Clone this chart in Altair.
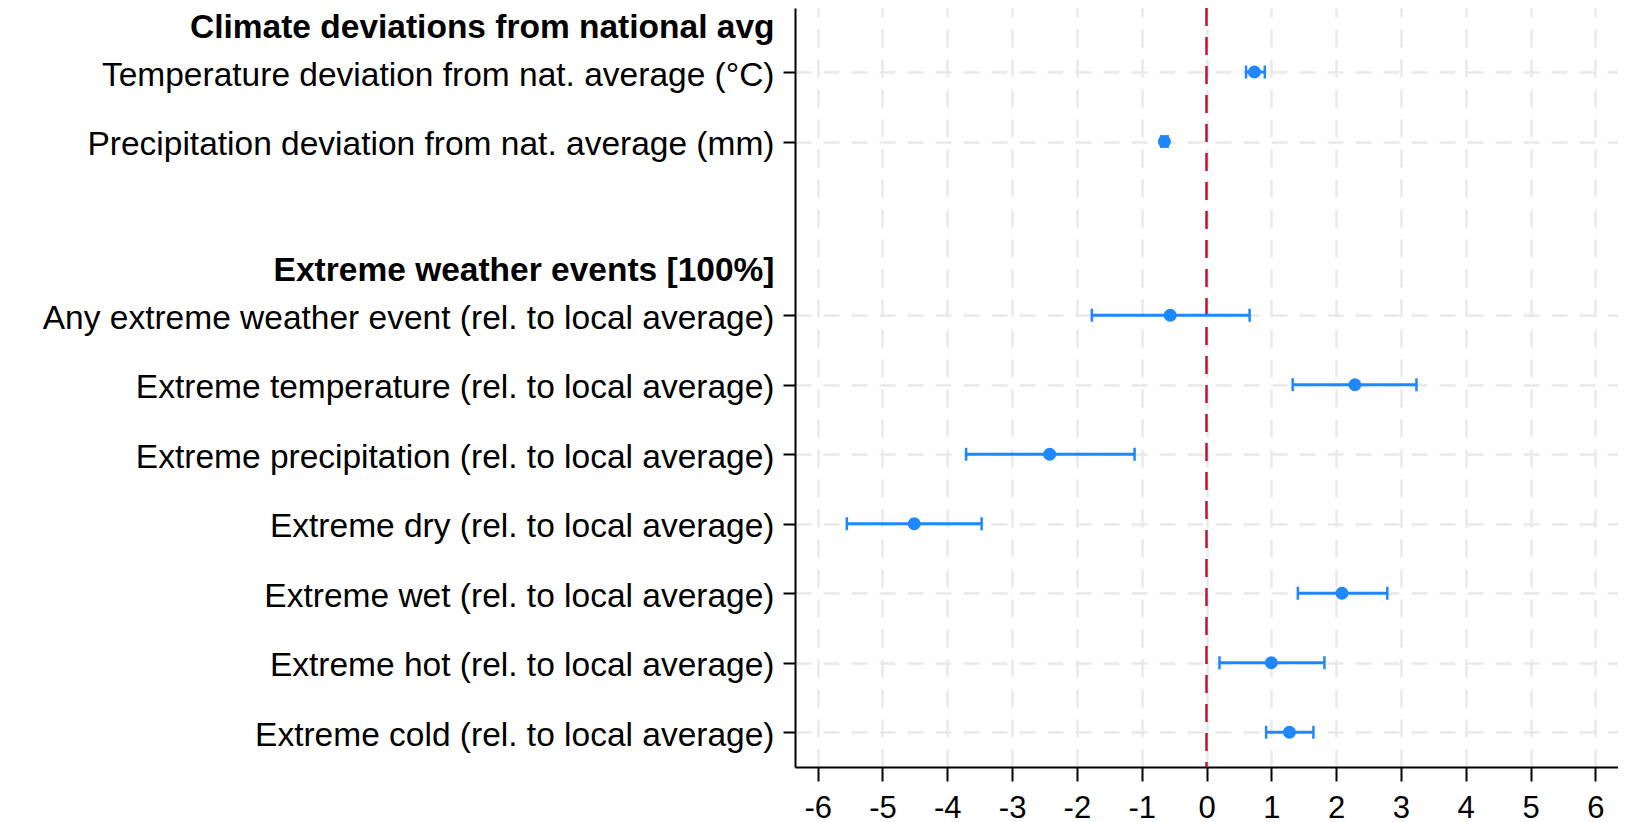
import json
import altair as alt
import pandas as pd

# ---- data ----
headers = ["Climate deviations from national avg", "Extreme weather events [100%]"]

group1_labels = [
    "Temperature deviation from nat. average (°C)",
    "Precipitation deviation from nat. average (mm)",
]
group1_est = [0.74, -0.65]
group1_lo = [0.61, -0.70]
group1_hi = [0.90, -0.60]

group2_labels = [
    "Any extreme weather event (rel. to local average)",
    "Extreme temperature (rel. to local average)",
    "Extreme precipitation (rel. to local average)",
    "Extreme dry (rel. to local average)",
    "Extreme wet (rel. to local average)",
    "Extreme hot (rel. to local average)",
    "Extreme cold (rel. to local average)",
]
group2_est = [-0.56, 2.29, -2.42, -4.51, 2.09, 1.00, 1.28]
group2_lo = [-1.77, 1.33, -3.71, -5.55, 1.41, 0.20, 0.92]
group2_hi = [0.665, 3.24, -1.11, -3.47, 2.79, 1.82, 1.65]

x_ticks = list(range(-6, 7))

# ---- build table (row index layout computed from group structure) ----
groups = [
    (group1_labels, group1_est, group1_lo, group1_hi),
    (group2_labels, group2_est, group2_lo, group2_hi),
]
rows = []
header_pos = []
start = 1.0
for gi, (labs, est, lo, hi) in enumerate(groups):
    header_pos.append(start - 0.69)
    for i, lab in enumerate(labs):
        rows.append({"label": lab, "pos": start + i, "est": est[i], "lo": lo[i], "hi": hi[i]})
    start = start + len(labs) + 1.5
df = pd.DataFrame(rows)

BLUE = "#1f87ff"
RED = "#c8102e"
FONT = "Liberation Sans"

# axis label expression
entries = [(p, h) for p, h in zip(header_pos, headers)] + [(r["pos"], r["label"]) for r in rows]
expr = ""
for p, t in entries:
    expr += f"abs(datum.value - {p}) < 0.01 ? {json.dumps(t, ensure_ascii=False)} : "
expr += "''"
hdr_test = " || ".join(f"abs(datum.value - {p}) < 0.01" for p in header_pos)

yaxis = alt.Axis(
    values=[p for p, _ in entries],
    labelExpr=expr,
    labelFont=FONT,
    labelFontSize=33.5,
    labelColor="black",
    labelPadding=9,
    labelOffset=3,
    labelLimit=1000,
    labelFontWeight={"condition": {"test": hdr_test, "value": "bold"}, "value": "normal"},
    tickOpacity={"condition": {"test": hdr_test, "value": 0}, "value": 1},
    gridOpacity={"condition": {"test": hdr_test, "value": 0}, "value": 1},
    tickSize=12,
    tickWidth=2,
    tickColor="black",
    domainColor="black",
    domainWidth=2,
    grid=True,
    gridDash=[16, 12],
    gridColor="#e9e9e9",
    gridWidth=2.5,
    title=None,
)
xaxis = alt.Axis(
    values=x_ticks,
    labelExpr="toString(datum.value)",
    labelFont=FONT,
    labelFontSize=31,
    labelColor="black",
    labelPadding=12,
    tickSize=14,
    tickWidth=2,
    tickColor="black",
    domainColor="black",
    domainWidth=2,
    grid=True,
    gridDash=[18, 12],
    gridColor="#e9e9e9",
    gridWidth=2.5,
    title=None,
    labelFlush=False,
)
yscale = alt.Scale(domain=[0.079, 11.0], reverse=True, nice=False, zero=False)
xscale = alt.Scale(domain=[-6.35, 6.35], nice=False, zero=False)

base = alt.Chart(df)

zero = alt.Chart(pd.DataFrame({"zero": [0]})).mark_rule(
    color=RED, strokeDash=[18, 11], strokeWidth=2.5
).encode(x=alt.X("zero:Q", scale=xscale, axis=xaxis))

err = base.mark_rule(color=BLUE, strokeWidth=3).encode(
    x=alt.X("lo:Q", scale=xscale, axis=xaxis),
    x2="hi:Q",
    y=alt.Y("pos:Q", scale=yscale, axis=yaxis),
)
cap_lo = base.mark_tick(color=BLUE, orient="vertical", size=13, thickness=2.5, opacity=1).encode(
    x=alt.X("lo:Q", scale=xscale, axis=xaxis),
    y=alt.Y("pos:Q", scale=yscale, axis=yaxis),
)
cap_hi = base.mark_tick(color=BLUE, orient="vertical", size=13, thickness=2.5, opacity=1).encode(
    x=alt.X("hi:Q", scale=xscale, axis=xaxis),
    y=alt.Y("pos:Q", scale=yscale, axis=yaxis),
)
pts = base.mark_circle(color=BLUE, size=170, opacity=1).encode(
    x=alt.X("est:Q", scale=xscale, axis=xaxis),
    y=alt.Y("pos:Q", scale=yscale, axis=yaxis),
)

chart = (
    alt.layer(zero, err, cap_lo, cap_hi, pts)
    .properties(
        width=823,
        height=759,
        autosize=alt.AutoSizeParams(type="none"),
        padding={"left": 787, "top": 0, "right": 0, "bottom": 60},
        background="white",
    )
    .configure_view(stroke=None)
)

chart.save("out.html", embed_options={"renderer": "svg", "actions": False})
